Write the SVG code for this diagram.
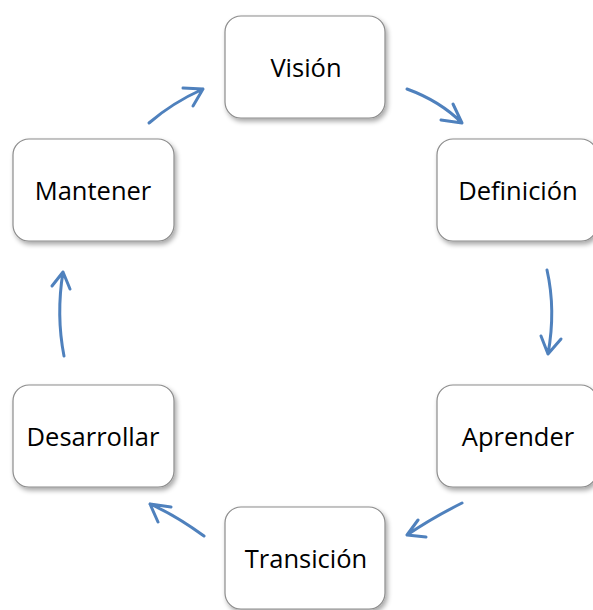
<svg xmlns="http://www.w3.org/2000/svg" width="593" height="610" viewBox="0 0 593 610">
<style>
.box{fill:#fff;stroke:#8c8c8c;stroke-width:1.2}
.lbl{font-family:"Open Sans","Liberation Sans",sans-serif;font-size:25.5px;fill:#000;text-anchor:middle;dominant-baseline:central}
.arr{fill:none;stroke:#4f81bd;stroke-width:3;stroke-linecap:round;stroke-linejoin:round}
</style>
<defs>
<filter id="sh" x="-10%" y="-10%" width="130%" height="130%">
<feGaussianBlur in="SourceAlpha" stdDeviation="2.5"/>
<feOffset dx="2" dy="3" result="b"/>
<feComponentTransfer><feFuncA type="linear" slope="0.35"/></feComponentTransfer>
<feMerge><feMergeNode/><feMergeNode in="SourceGraphic"/></feMerge>
</filter>
</defs>
<rect width="593" height="610" fill="#fff"/>
<g id="vision"><rect class="box" filter="url(#sh)" x="225" y="16" width="160" height="102" rx="16"/><text class="lbl" x="306" y="67">Visión</text></g>
<g id="definicion"><rect class="box" filter="url(#sh)" x="437" y="139" width="160" height="102" rx="16"/><text class="lbl" x="518" y="190">Definición</text></g>
<g id="aprender"><rect class="box" filter="url(#sh)" x="437" y="385" width="160" height="102" rx="16"/><text class="lbl" x="518" y="436">Aprender</text></g>
<g id="transicion"><rect class="box" filter="url(#sh)" x="225" y="507" width="160" height="102" rx="16"/><text class="lbl" x="306" y="558">Transición</text></g>
<g id="desarrollar"><rect class="box" filter="url(#sh)" x="13" y="385" width="161" height="102" rx="16"/><text class="lbl" x="93" y="436">Desarrollar</text></g>
<g id="mantener"><rect class="box" filter="url(#sh)" x="13" y="139" width="161" height="102" rx="16"/><text class="lbl" x="93" y="190">Mantener</text></g>
<g id="connectors">
<path class="arr" d="M149 123 Q172 103 203 89 M183 88 L203 89 L193 106"/>
<path class="arr" d="M407 89 Q440 101 462 123 M453 104 L462 123 L441 120"/>
<path class="arr" d="M547 270 Q556 310 548 354 M541 336 L548 354 L561 339"/>
<path class="arr" d="M462 503 Q432 518 407 535 M418 520 L407 535 L426 537"/>
<path class="arr" d="M204 536 Q175 515 150 504 M171 507 L150 504 L158 522"/>
<path class="arr" d="M64 356 Q56 315 63 272 M52 286 L63 272 L70 289"/>
</g>
</svg>
